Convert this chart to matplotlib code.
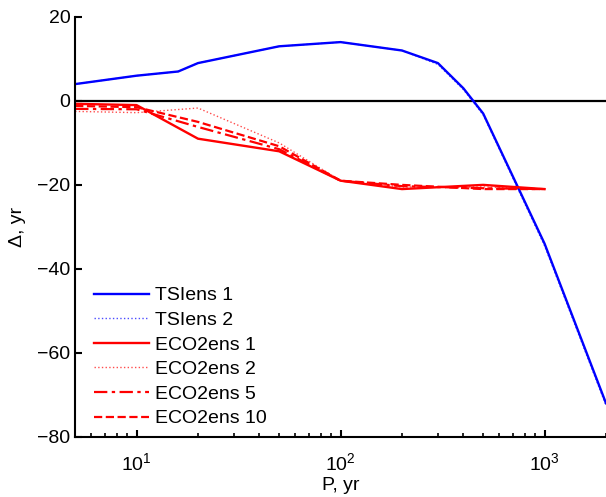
import matplotlib
matplotlib.use("Agg")
import matplotlib.pyplot as plt
from matplotlib.ticker import LogLocator, NullFormatter

plt.rcParams['font.family'] = ['Liberation Sans', 'DejaVu Sans']

# okresy P (lata) i wartości Delta dla zespołów TSI
p_tsi = [5, 10, 16, 20, 50, 100, 200, 300, 400, 500, 1000, 2000]
tsi_1 = [4, 6, 7, 9, 13, 14, 12, 9, 3, -3, -34, -72]
tsi_2 = [4, 6, 7, 9, 13, 14, 12, 8.7, 2.7, -3.3, -34.5, -72.5]

# okresy P i wartości Delta dla zespołów ECO2
p_eco = [5, 10, 20, 50, 100, 200, 500, 1000]
eco_1 = [-0.7, -1, -9, -12, -19, -21, -20, -21]
eco_2 = [-2.5, -2.8, -1.7, -10, -19, -20.5, -20.5, -21]
eco_5 = [-1.9, -2, -6.2, -11.5, -19, -20.3, -20.8, -21]
eco_10 = [-1.2, -1.5, -5, -10.8, -19, -20, -21, -21]

fig = plt.figure(figsize=(6.06, 4.97), dpi=100)
ax = fig.add_axes([0.124, 0.121, 0.876, 0.845])

ax.axhline(0, color="black", linewidth=1.6, zorder=1)

ax.plot(p_tsi, tsi_1, color="blue", linewidth=1.7, label="TSIens 1")
ax.plot(p_tsi, tsi_2, color="blue", linewidth=1.0, linestyle=":", alpha=0.7, label="TSIens 2")
ax.plot(p_eco, eco_1, color="red", linewidth=1.7, label="ECO2ens 1")
ax.plot(p_eco, eco_2, color="red", linewidth=1.0, linestyle=":", alpha=0.7, label="ECO2ens 2")
ax.plot(p_eco, eco_5, color="red", linewidth=1.6, linestyle=(0, (6, 2, 1.5, 2)), label="ECO2ens 5")
ax.plot(p_eco, eco_10, color="red", linewidth=1.6, linestyle="--", label="ECO2ens 10")

ax.set_xscale("log")
ax.set_xlim(5, 2000)
ax.set_ylim(-80, 20)
ax.set_yticks([-80, -60, -40, -20, 0, 20])
ax.xaxis.set_major_locator(LogLocator(base=10, numticks=10))
ax.xaxis.set_minor_locator(LogLocator(base=10, subs=range(2, 10), numticks=20))
ax.xaxis.set_minor_formatter(NullFormatter())

ax.spines["top"].set_visible(False)
ax.spines["right"].set_visible(False)
ax.spines["left"].set_linewidth(1.5)
ax.spines["bottom"].set_linewidth(1.5)
ax.tick_params(axis="both", which="major", direction="in", length=5, width=1.5, labelsize=14)
ax.tick_params(axis="x", which="minor", direction="in", length=3, width=1.2)
ax.tick_params(axis="x", which="major", pad=11)

ax.set_xlabel("P, yr", fontsize=14, labelpad=2)
ax.set_ylabel("Δ, yr", fontsize=14, labelpad=8)

ax.legend(loc="lower left", frameon=False, fontsize=14, handlelength=2.8,
          handletextpad=0.35, labelspacing=0.36, borderaxespad=0.3,
          bbox_to_anchor=(0.01, -0.01))

fig.savefig("out.png", dpi=100)
